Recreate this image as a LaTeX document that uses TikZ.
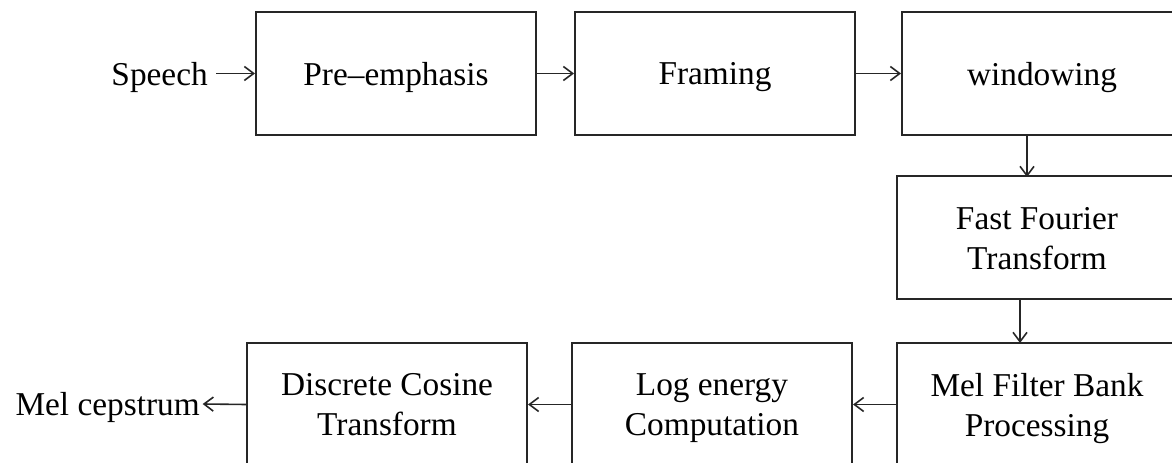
\documentclass[tikz,border=0pt]{standalone}
\usepackage{fontspec}
\setmainfont{Liberation Serif}
\usetikzlibrary{arrows.meta}
\begin{document}
\begin{tikzpicture}[x=0.75pt,y=-0.75pt,
  box/.style={draw=black!85,line width=1.5pt,minimum width=210pt,minimum height=92.25pt,inner sep=0pt,align=center,text depth=0pt,font=\fontsize{25}{30}\selectfont},
  lbl/.style={inner sep=0pt,text depth=0pt,font=\fontsize{25}{30}\selectfont},
  arr/.style={draw=black!85,line width=1.2pt,-{Straight Barb[length=7pt,width=10.5pt,line width=1.2pt]}}]
\useasboundingbox (0,0) rectangle (1172,463);
\begin{scope}
\clip (0,0) rectangle (1172,463);
\node[box] (pre) at (396,73.5) {Pre–emphasis};
\node[box] (frm) at (715,73.5) {Framing};
\node[box] (win) at (1042,73.5) {windowing};
\node[box] (fft) at (1037,238) {Fast Fourier\\Transform};
\node[box] (mel) at (1037,404.5) {Mel Filter Bank\\Processing};
\node[box] (log) at (712,404.5) {Log energy\\Computation};
\node[box] (dct) at (387,404.5) {Discrete Cosine\\Transform};
\end{scope}
\node[lbl,anchor=east] (sp) at (208,73.5) {Speech};
\node[lbl,anchor=east] (mc) at (200,404) {Mel cepstrum};
\coordinate (w1) at (1027,135);
\coordinate (f1) at (1027,177);
\coordinate (f2) at (1020,299);
\coordinate (m1) at (1020,343);
\draw[arr] ([xshift=6pt]sp.east) -- (pre.west);
\draw[arr] (pre.east) -- (frm.west);
\draw[arr] (frm.east) -- (win.west);
\draw[arr] (w1) -- (f1);
\draw[arr] (f2) -- (m1);
\draw[arr] (mel.west) -- (log.east);
\draw[arr] (log.west) -- (dct.east);
\draw[arr] (dct.west) -- ([xshift=2pt]mc.east);
\end{tikzpicture}
\end{document}
